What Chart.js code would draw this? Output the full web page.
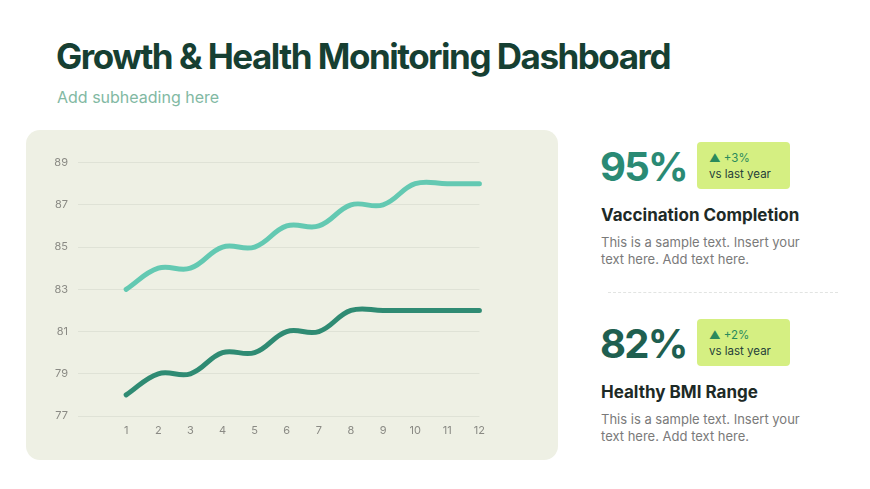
<!DOCTYPE html>
<html>
<head>
<meta charset="utf-8">
<script src="https://cdn.jsdelivr.net/npm/chart.js@4/dist/chart.umd.min.js"></script>
<style>
  html, body { margin:0; padding:0; background:#ffffff; }
  body { width:870px; height:489px; position:relative; overflow:hidden; font-family: Inter, "Noto Sans", sans-serif; }
  .title { position:absolute; left:56px; top:35px; font-size:35px; font-weight:700; color:#163f32; letter-spacing:-1.5px; white-space:nowrap; }
  .sub { position:absolute; left:57px; top:87px; font-size:16px; color:#82b9a3; white-space:nowrap; }
  .panel { position:absolute; left:26px; top:130px; width:532px; height:330px; background:#eef0e4; border-radius:14px; }
  #wrap { position:absolute; left:40px; top:146px; width:445px; height:299px; }
  .big { position:absolute; left:600px; font-size:40px; font-weight:700; letter-spacing:-1.8px; white-space:nowrap; }
  .badge { position:absolute; left:697px; width:93px; height:47px; background:#d5ef82; border-radius:4px; }
  .badge .up { position:absolute; left:12px; top:9px; font-size:11.5px; color:#2a8a5c; white-space:nowrap; }
  .badge .vs { position:absolute; left:12px; top:25px; font-size:11.5px; color:#25403a; white-space:nowrap; }
  .h { position:absolute; left:601px; font-size:17px; font-weight:700; color:#1d2a26; white-space:nowrap; }
  .p { position:absolute; left:601px; font-size:13px; color:#7a7a7a; line-height:17px; white-space:nowrap; }
  .sep { position:absolute; left:608px; top:292px; width:230px; border-top:1px dashed #e2e4e2; }
</style>
</head>
<body>
<div class="title">Growth &amp; Health Monitoring Dashboard</div>
<div class="sub">Add subheading here</div>
<div class="panel"></div>
<div id="wrap"><canvas id="c"></canvas></div>

<div class="big" style="top:142px;color:#2a8a74;">95%</div>
<div class="badge" style="top:142px;"><div class="up">▲ +3%</div><div class="vs">vs last year</div></div>
<div class="h" style="top:205px;">Vaccination Completion</div>
<div class="p" style="top:234px;">This is a sample text. Insert your<br>text here. Add text here.</div>
<div class="sep"></div>
<div class="big" style="top:319px;color:#1f5f50;">82%</div>
<div class="badge" style="top:319px;"><div class="up">▲ +2%</div><div class="vs">vs last year</div></div>
<div class="h" style="top:382px;">Healthy BMI Range</div>
<div class="p" style="top:411px;">This is a sample text. Insert your<br>text here. Add text here.</div>

<script>
const months = [1,2,3,4,5,6,7,8,9,10,11,12];
const vaccination = [83,84,84,85,85,86,86,87,87,88,88,88];
const bmi = [78,79,79,80,80,81,81,82,82,82,82,82];
const yTicks = [77,79,81,83,85,87,89];

const toPts = (arr) => arr.map((v,i) => ({x: months[i], y: v}));

new Chart(document.getElementById('c'), {
  type: 'line',
  data: {
    datasets: [
      { data: toPts(vaccination), borderColor:'#63c9b2', borderWidth:5, tension:0.4, pointRadius:0, borderCapStyle:'round', clip:false },
      { data: toPts(bmi), borderColor:'#2f8b73', borderWidth:5, tension:0.4, pointRadius:0, borderCapStyle:'round', clip:false }
    ]
  },
  options: {
    responsive:true, maintainAspectRatio:false, animation:false,
    layout:{ padding:{ top:8, right:0, left:0, bottom:0 } },
    plugins:{ legend:{display:false}, tooltip:{enabled:false} },
    scales:{
      x:{
        type:'linear', min:-0.5, max:12,
        afterBuildTicks:(s)=>{ s.ticks = months.map(v=>({value:v})); },
        afterFit:(s)=>{ s.height = 29; },
        grid:{ display:false }, border:{ display:false },
        ticks:{ color:'#8a8a84', font:{ family:'Inter', size:11 }, padding:0, maxRotation:0 }
      },
      y:{
        min:77, max:89,
        afterBuildTicks:(s)=>{ s.ticks = yTicks.map(v=>({value:v})); },
        afterFit:(s)=>{ s.width = 38; },
        grid:{ color:'#dfe2d6', drawTicks:false, lineWidth:1 }, border:{ display:false },
        ticks:{ color:'#8a8a84', font:{ family:'Inter', size:11 }, padding:10 }
      }
    }
  }
});
</script>
</body>
</html>
